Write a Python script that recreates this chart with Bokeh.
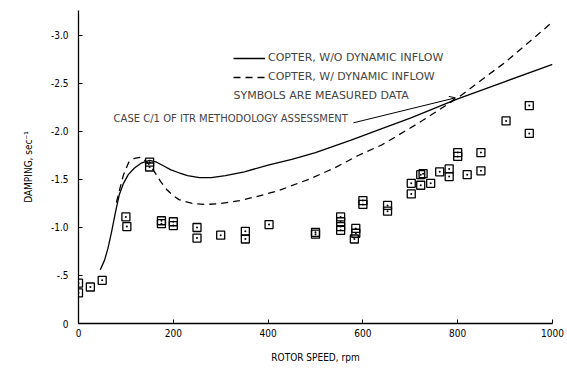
from bokeh.plotting import figure
from bokeh.models import Range1d, Label, Legend, LegendItem, Arrow, OpenHead, FixedTicker
from bokeh.embed import file_html
from bokeh.resources import INLINE

# --- data ---
solid_rpm = [46, 55, 62, 70, 78, 86, 95, 105, 118, 132, 150, 165, 180, 195, 212, 230, 255,
             280, 310, 350, 400, 450, 500, 575, 640, 700, 800, 900, 1000]
solid_damp = [-0.56, -0.66, -0.78, -0.96, -1.16, -1.34, -1.46, -1.55, -1.62, -1.67, -1.70,
              -1.68, -1.64, -1.60, -1.57, -1.54, -1.52, -1.52, -1.54, -1.58, -1.65, -1.71,
              -1.78, -1.91, -2.03, -2.14, -2.34, -2.52, -2.70]

dashed_rpm = [80, 87, 95, 106, 118, 131, 145, 159, 173, 187, 200, 212, 240, 270, 300, 340,
              374, 420, 490, 540, 590, 640, 715, 800, 900, 1000]
dashed_damp = [-1.26, -1.40, -1.55, -1.68, -1.72, -1.73, -1.68, -1.59, -1.48, -1.39, -1.33,
               -1.29, -1.25, -1.24, -1.25, -1.28, -1.32, -1.38, -1.51, -1.62, -1.75, -1.86,
               -2.08, -2.35, -2.72, -3.14]

meas_rpm = [0, 0, 25, 50, 100, 102, 150, 150, 175, 175, 200, 200, 250, 250, 300, 352, 352,
            402, 500, 500, 553, 553, 553, 553, 585, 585, 582, 600, 600, 652, 652, 702, 702,
            722, 722, 727, 743, 762, 782, 782, 800, 800, 820, 849, 849, 902, 951, 951]
meas_damp = [-0.42, -0.32, -0.38, -0.45, -1.11, -1.01, -1.68, -1.63, -1.07, -1.04, -1.06,
             -1.02, -1.00, -0.89, -0.92, -0.96, -0.88, -1.03, -0.95, -0.93, -1.11, -1.06,
             -1.01, -0.97, -0.99, -0.94, -0.88, -1.28, -1.24, -1.23, -1.17, -1.46, -1.35,
             -1.44, -1.55, -1.56, -1.46, -1.58, -1.61, -1.53, -1.78, -1.74, -1.55, -1.78,
             -1.59, -2.11, -2.27, -1.98]

x_ticks = [0, 200, 400, 600, 800, 1000]
y_ticks = [0, -0.5, -1.0, -1.5, -2.0, -2.5, -3.0]
y_tick_labels = ["0", "-.5", "-1.0", "-1.5", "-2.0", "-2.5", "-3.0"]

legend_labels = ["COPTER, W/O DYNAMIC INFLOW", "COPTER, W/ DYNAMIC INFLOW"]
note_text = "SYMBOLS ARE MEASURED DATA"
case_text = "CASE C/1 OF ITR METHODOLOGY ASSESSMENT"
x_title = "ROTOR SPEED, rpm"
y_title = "DAMPING, sec\u207b\u00b9"

FONT = "DejaVu Sans"
COND = "DejaVu Sans Condensed, Liberation Sans Narrow, DejaVu Sans"

p = figure(width=567, height=373, output_backend="svg", toolbar_location=None,
           x_range=Range1d(0, 1000), y_range=Range1d(0, -3.26),
           min_border_left=78, min_border_right=15, min_border_top=10, min_border_bottom=50)
p.background_fill_color = "white"
p.border_fill_color = "white"
p.outline_line_color = None
p.xgrid.visible = False
p.ygrid.visible = False

for ax in (p.xaxis[0], p.yaxis[0]):
    ax.axis_line_color = "black"
    ax.axis_line_width = 1.3
    ax.major_tick_line_color = "black"
    ax.major_tick_in = 4
    ax.major_tick_out = 0
    ax.minor_tick_line_color = None
    ax.major_label_text_font = COND
    ax.major_label_text_font_size = "10px"
    ax.major_label_text_color = "black"
    ax.axis_label_text_font = COND
    ax.axis_label_text_font_size = "10px"
    ax.axis_label_text_font_style = "normal"
    ax.axis_label_text_color = "black"

p.xaxis.ticker = FixedTicker(ticks=x_ticks)
p.yaxis.ticker = FixedTicker(ticks=y_ticks)
p.yaxis.major_label_overrides = {t: l for t, l in zip(y_ticks, y_tick_labels)}
p.xaxis.major_label_standoff = 5
p.yaxis.major_label_standoff = 10

p.xaxis.axis_label = x_title
p.xaxis.axis_label_standoff = 12
p.yaxis.axis_label = y_title
p.yaxis.axis_label_standoff = 14

r_solid = p.line(solid_rpm, solid_damp, line_color="black", line_width=1.3)
r_dash = p.line(dashed_rpm, dashed_damp, line_color="black", line_width=1.3, line_dash="7 5")
p.scatter(meas_rpm, meas_damp, marker="square_dot", size=8, fill_color=None,
          line_color="black", line_width=1.3)

legend = Legend(items=[LegendItem(label=legend_labels[0], renderers=[r_solid]),
                       LegendItem(label=legend_labels[1], renderers=[r_dash])],
                location=(155, 240), glyph_width=32, glyph_height=12, label_standoff=3,
                spacing=6, padding=0, margin=0, border_line_color=None,
                background_fill_alpha=0, label_text_font=FONT, label_text_font_size="11px",
                label_height=12)
p.add_layout(legend)

p.add_layout(Label(x=327, y=-2.375, text=note_text, text_font=FONT, text_font_size="11px",
                   text_baseline="middle"))
p.add_layout(Label(x=74, y=-2.135, text=case_text, text_font=FONT, text_font_size="10px",
                   text_baseline="middle"))
p.add_layout(Arrow(end=OpenHead(size=6, line_width=1), x_start=580, y_start=-2.09,
                   x_end=795, y_end=-2.35, line_width=1))

open("out.html", "w").write(file_html(p, INLINE))
